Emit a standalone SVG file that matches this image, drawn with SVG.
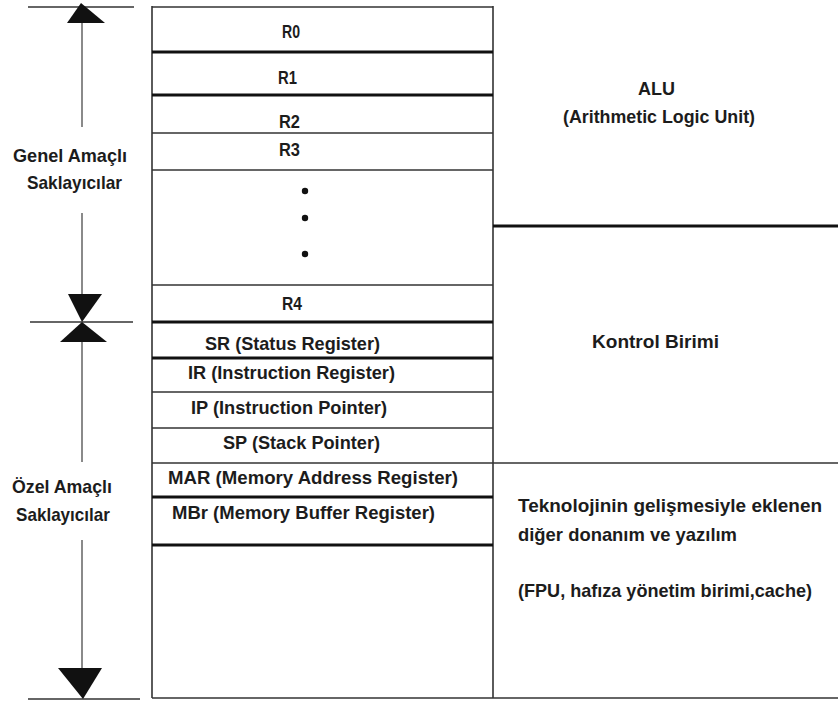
<svg xmlns="http://www.w3.org/2000/svg" width="838" height="702" viewBox="0 0 838 702">
<style>
text{font-family:"Liberation Sans",Arial,sans-serif;font-weight:bold;font-size:18.5px;fill:#1c1c1c}
.thin{stroke:#333;stroke-width:1.6;fill:none}
.thick{stroke:#111;stroke-width:3;fill:none}
.axis{stroke:#8a8a8a;stroke-width:2;fill:none}
.head{fill:#111}
</style>
<rect width="838" height="702" fill="#fff"/>
<g id="frame">
<line class="thin" x1="152" y1="7" x2="493" y2="7"/>
<line class="thin" x1="152" y1="6" x2="152" y2="698"/>
<line class="thin" x1="493" y1="6" x2="493" y2="698"/>
<line class="thin" x1="152" y1="698" x2="838" y2="698"/>
</g>
<g id="R0"><text x="282" y="38" textLength="18" lengthAdjust="spacingAndGlyphs">R0</text></g>
<g id="R1"><line class="thick" x1="152" y1="52" x2="493" y2="52"/><text x="278" y="84" textLength="19" lengthAdjust="spacingAndGlyphs">R1</text></g>
<g id="R2"><line class="thick" x1="152" y1="95" x2="493" y2="95"/><text x="279" y="128" textLength="21" lengthAdjust="spacingAndGlyphs">R2</text></g>
<g id="R3"><line class="thin" x1="152" y1="133" x2="493" y2="133"/><text x="279" y="156" textLength="21" lengthAdjust="spacingAndGlyphs">R3</text></g>
<g id="dots"><line class="thin" x1="152" y1="170" x2="493" y2="170"/>
<circle cx="305" cy="191" r="3.2" fill="#111"/><circle cx="305" cy="218" r="3.2" fill="#111"/><circle cx="305" cy="254" r="3.2" fill="#111"/></g>
<g id="R4"><line class="thin" x1="152" y1="285" x2="493" y2="285"/><text x="282" y="310" textLength="20" lengthAdjust="spacingAndGlyphs">R4</text></g>
<g id="SR"><line class="thick" x1="152" y1="322" x2="493" y2="322"/><text x="205" y="350" textLength="175" lengthAdjust="spacingAndGlyphs">SR (Status Register)</text></g>
<g id="IR"><line class="thick" x1="152" y1="358" x2="493" y2="358"/><text x="188" y="379" textLength="207" lengthAdjust="spacingAndGlyphs">IR (Instruction Register)</text></g>
<g id="IP"><line class="thin" x1="152" y1="392" x2="493" y2="392"/><text x="191" y="414" textLength="196" lengthAdjust="spacingAndGlyphs">IP (Instruction Pointer)</text></g>
<g id="SP"><line class="thin" x1="152" y1="428" x2="493" y2="428"/><text x="223" y="449" textLength="157" lengthAdjust="spacingAndGlyphs">SP (Stack Pointer)</text></g>
<g id="MAR"><line class="thin" x1="152" y1="463" x2="493" y2="463"/><text x="168" y="484" textLength="290" lengthAdjust="spacingAndGlyphs">MAR (Memory Address Register)</text></g>
<g id="MBr"><line class="thick" x1="152" y1="497" x2="493" y2="497"/><text x="172" y="519" textLength="263" lengthAdjust="spacingAndGlyphs">MBr (Memory Buffer Register)</text></g>
<g id="empty"><line class="thick" x1="152" y1="545" x2="493" y2="545"/></g>
<g id="ALU"><text x="638" y="95" textLength="37" lengthAdjust="spacingAndGlyphs">ALU</text>
<text x="563" y="123" textLength="192" lengthAdjust="spacingAndGlyphs">(Arithmetic Logic Unit)</text></g>
<g id="Kontrol"><line class="thick" x1="493" y1="226" x2="838" y2="226"/><text x="592" y="348" textLength="127" lengthAdjust="spacingAndGlyphs">Kontrol  Birimi</text></g>
<g id="Diger"><line class="thin" x1="493" y1="463" x2="838" y2="463"/>
<text x="518" y="512" textLength="304" lengthAdjust="spacingAndGlyphs">Teknolojinin gelişmesiyle eklenen</text>
<text x="518" y="541" textLength="219" lengthAdjust="spacingAndGlyphs">diğer donanım ve yazılım</text>
<text x="518" y="597" textLength="294" lengthAdjust="spacingAndGlyphs">(FPU, hafıza yönetim birimi,cache)</text></g>
<g id="Genel"><text x="13" y="162" textLength="114" lengthAdjust="spacingAndGlyphs">Genel Amaçlı</text>
<text x="27" y="189" textLength="95" lengthAdjust="spacingAndGlyphs">Saklayıcılar</text></g>
<g id="Ozel"><text x="12" y="493" textLength="100" lengthAdjust="spacingAndGlyphs">Özel Amaçlı</text>
<text x="16" y="521" textLength="94" lengthAdjust="spacingAndGlyphs">Saklayıcılar</text></g>
<g id="connectors">
<line class="thin" x1="28" y1="7" x2="134" y2="7" stroke-width="2"/>
<line class="thin" x1="30" y1="322" x2="133" y2="322" stroke-width="2.2"/>
<line class="thin" x1="28" y1="699" x2="140" y2="699" stroke-width="2"/>
<line class="axis" x1="82" y1="22" x2="82" y2="127"/>
<line class="axis" x1="82" y1="213" x2="82" y2="295"/>
<line class="axis" x1="82" y1="341" x2="82" y2="462"/>
<line class="axis" x1="82" y1="540" x2="82" y2="669"/>
<polygon class="head" points="81,3 105,23 67,23"/>
<polygon class="head" points="68,294 102,294 82,322"/>
<polygon class="head" points="82,322 107,342 60,342"/>
<polygon class="head" points="58,668 102,668 83,699"/>
</g>
</svg>
